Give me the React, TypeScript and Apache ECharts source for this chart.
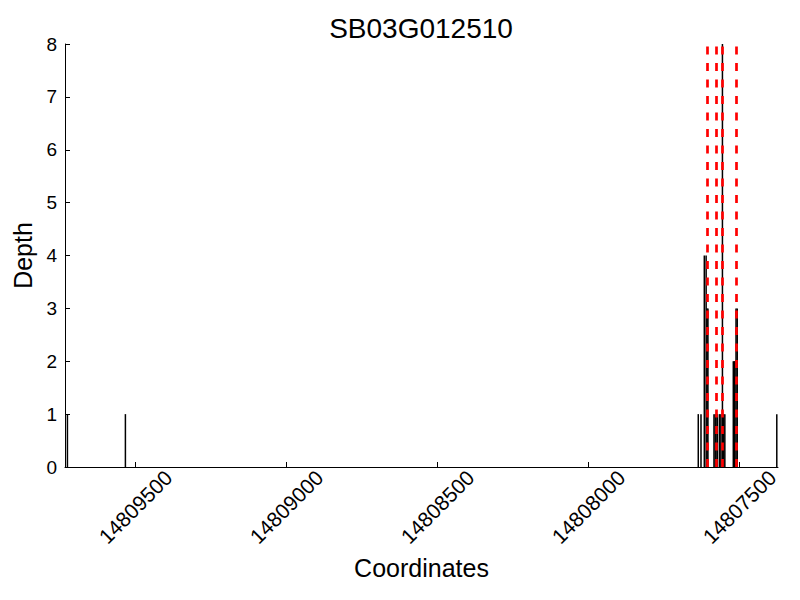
import React, { useEffect, useRef } from "react";
import * as echarts from "echarts";

const titleText = "SB03G012510";
const positions = [
  14809725, 14809533, 14807636, 14807627, 14807616, 14807610, 14807607, 14807604,
  14807584, 14807580, 14807577, 14807572, 14807565, 14807561, 14807556, 14807552,
  14807548, 14807520, 14807517, 14807515, 14807511, 14807507, 14807376,
];
const depths = [1, 1, 1, 1, 4, 4, 3, 3, 1, 1, 1, 1, 1, 1, 8, 1, 1, 2, 2, 2, 3, 3, 1];
const markerPositions = [14807605, 14807575, 14807556, 14807510];
const xTicks = [14807500, 14808000, 14808500, 14809000, 14809500];
const xMin = 14807372;
const xMax = 14809733;

export default function App() {
  const ref = useRef<HTMLDivElement>(null);
  useEffect(() => {
    if (!ref.current) return;
    const chart = echarts.init(ref.current, null, { renderer: "svg" });
    const font = "'Liberation Sans', Arial, sans-serif";
    chart.setOption({
      animation: false,
      backgroundColor: "#fff",
      textStyle: { fontFamily: font, color: "#000" },
      title: {
        text: titleText,
        left: 416,
        top: 9,
        textAlign: "center",
        textStyle: { fontFamily: font, fontSize: 28, fontWeight: "normal", color: "#000" },
      },
      grid: { left: 65, right: 22, top: 44, bottom: 133, containLabel: false },
      xAxis: {
        type: "value",
        inverse: true,
        min: xMin,
        max: xMax,
        name: "Coordinates",
        nameLocation: "middle",
        nameGap: 88,
        nameTextStyle: { fontFamily: font, fontSize: 25, color: "#000" },
        axisLine: { show: true, onZero: false, lineStyle: { color: "#000", width: 1 } },
        axisTick: {
          show: true,
          inside: true,
          length: 5,
          customValues: xTicks,
          lineStyle: { color: "#000" },
        },
        axisLabel: {
          show: true,
          rotate: 45,
          align: "center",
          verticalAlign: "middle",
          fontSize: 21,
          margin: 40,
          color: "#000",
          fontFamily: font,
          customValues: xTicks,
          formatter: (v: number) => String(v),
        },
        splitLine: { show: false },
      },
      yAxis: {
        type: "value",
        min: 0,
        max: 8,
        interval: 1,
        name: "Depth",
        nameLocation: "middle",
        nameGap: 20,
        nameTextStyle: { fontFamily: font, fontSize: 25, color: "#000" },
        axisLine: { show: true, lineStyle: { color: "#000", width: 1 } },
        axisTick: { show: true, inside: true, length: 5, lineStyle: { color: "#000" } },
        axisLabel: { fontSize: 19, margin: 8, color: "#000", fontFamily: font },
        splitLine: { show: false },
      },
      series: [
        {
          type: "bar",
          data: positions.map((p, i) => [p, depths[i]]),
          barWidth: 1.5,
          itemStyle: { color: "#000" },
          silent: true,
          z: 2,
        },
        {
          type: "line",
          data: [],
          z: 5,
          markLine: {
            silent: true,
            symbol: ["none", "none"],
            label: { show: false },
            lineStyle: { color: "#ff0000", width: 2.7, type: [8, 8.5], opacity: 1 },
            emphasis: { disabled: true },
            data: markerPositions.map((m) => ({ xAxis: m })),
          },
        },
      ],
    });
    return () => chart.dispose();
  }, []);
  return (
    <div
      ref={ref}
      style={{ position: "absolute", left: 0, top: 0, width: 800, height: 600 }}
    />
  );
}
